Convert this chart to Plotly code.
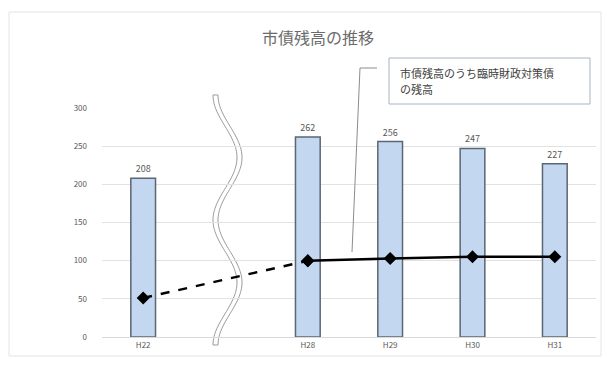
import numpy as np
import plotly.graph_objects as go

# Fiscal years (a blank slot marks the break in the timeline)
categories = ["H22", " ", "H28", "H29", "H30", "H31"]
debt_total = [208, None, 262, 256, 247, 227]          # 市債残高 (億円)
special_bonds = [51, None, 100, 103, 105, 105]        # うち臨時財政対策債
y_ticks = [0, 50, 100, 150, 200, 250, 300]

title_text = "市債残高の推移"
note_lines = ["市債残高のうち臨時財政対策債", "の残高"]

W, H = 605, 365
ML, MR, MT, MB = 102, 9, 108, 28
PW, PH = W - ML - MR, H - MT - MB

def px_x(px):
    return (px - ML) / PW

def px_y(py):
    return (H - MB - py) / PH

fig = go.Figure()

fig.add_trace(go.Bar(
    x=categories, y=debt_total,
    width=0.3,
    marker=dict(color="#c3d8f0", line=dict(color="#5b6673", width=1.5)),
    text=[("" if v is None else str(v)) for v in debt_total],
    textposition="outside",
    textfont=dict(size=9, color="#595959"),
    cliponaxis=False,
    showlegend=False,
))

# dashed segment across the break, solid segment afterwards
fig.add_trace(go.Scatter(
    x=[categories[0], categories[2]], y=[special_bonds[0], special_bonds[2]],
    mode="lines+markers",
    line=dict(color="black", width=2.5, dash="dash"),
    marker=dict(symbol="diamond", size=10, color="black"),
    showlegend=False,
))
fig.add_trace(go.Scatter(
    x=categories[2:], y=special_bonds[2:],
    mode="lines+markers",
    line=dict(color="black", width=2.5),
    marker=dict(symbol="diamond", size=10, color="black"),
    showlegend=False,
))

shapes = []

# wavy double line marking the omitted years
cx = (1 + 0.5) / len(categories)
amp = 12 / PW
gap = 5 / PW
ys = np.linspace(95, 345, 120)
xs = cx + 2 / PW - amp * np.cos(2 * np.pi * (ys - 95) / 125)
left = [(x - gap / 2, px_y(y)) for x, y in zip(xs, ys)]
right = [(x + gap / 2, px_y(y)) for x, y in zip(xs, ys)][::-1]
pts = left + right
path = "M " + " L ".join(f"{x:.5f},{y:.5f}" for x, y in pts) + " Z"
shapes.append(dict(type="path", path=path, xref="paper", yref="paper",
                   fillcolor="white", line=dict(color="#9a9a9a", width=1),
                   layer="between"))

# callout line from the series to the note box
shapes.append(dict(type="line", xref="paper", yref="paper",
                   x0=px_x(352), y0=px_y(252), x1=px_x(360), y1=px_y(68),
                   line=dict(color="#8c8c8c", width=1)))
shapes.append(dict(type="line", xref="paper", yref="paper",
                   x0=px_x(360), y0=px_y(68), x1=px_x(377), y1=px_y(68),
                   line=dict(color="#8c8c8c", width=1)))

# note box
shapes.append(dict(type="rect", xref="paper", yref="paper",
                   x0=px_x(389), y0=px_y(104), x1=px_x(590), y1=px_y(58),
                   line=dict(color="#a6b4c4", width=1), fillcolor="white"))

# outer chart frame
shapes.append(dict(type="rect", xref="paper", yref="paper",
                   x0=px_x(9), y0=px_y(356), x1=px_x(601), y1=px_y(12),
                   line=dict(color="#e3e3e3", width=1), fillcolor="rgba(0,0,0,0)"))

annotations = []
for i, line in enumerate(note_lines):
    annotations.append(dict(
        text=line, xref="paper", yref="paper",
        x=px_x(398), y=px_y(73 + 16 * i), xanchor="left", yanchor="middle",
        align="left", showarrow=False,
        font=dict(size=11, color="#404040"),
    ))

fig.update_layout(
    width=W, height=H,
    margin=dict(l=ML, r=MR, t=MT, b=MB),
    paper_bgcolor="white", plot_bgcolor="white",
    font=dict(family="Noto Sans CJK JP", color="#595959"),
    title=dict(text=title_text, x=318 / W, xanchor="center", xref="container",
               y=1 - 38 / H, yanchor="middle",
               font=dict(size=16, color="#6b6b6b")),
    shapes=shapes,
    bargap=0.7,
    annotations=annotations,
)

fig.update_xaxes(
    type="category", categoryorder="array", categoryarray=categories,
    range=[-0.5, len(categories) - 0.5],
    showgrid=False, showline=True, linecolor="#d9d9d9",
    ticks="", tickfont=dict(size=8, color="#595959"),
)
fig.update_yaxes(
    range=[0, 300], tickvals=y_ticks,
    showgrid=True, gridcolor="#e2e2e2", gridwidth=1,
    zeroline=False, showline=False,
    tickfont=dict(size=8, color="#595959"), ticklabelstandoff=14,
)

fig.write_html("out.html")
